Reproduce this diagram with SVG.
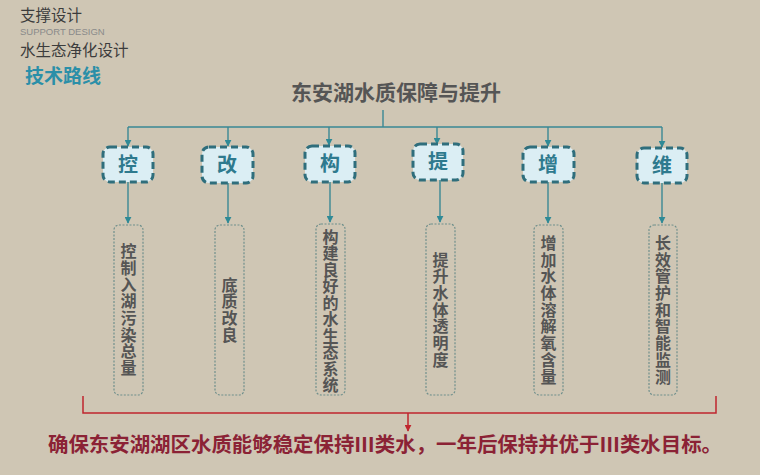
<svg xmlns="http://www.w3.org/2000/svg" width="760" height="475" viewBox="0 0 760 475">
<defs>
<marker id="ah" viewBox="0 0 10 10" refX="9" refY="5" markerWidth="7" markerHeight="7" markerUnits="userSpaceOnUse" orient="auto">
<path d="M0,0 L10,5 L0,10 z" fill="#2f8a96"/>
</marker>
<marker id="ahr" viewBox="0 0 10 10" refX="9" refY="5" markerWidth="7" markerHeight="7" markerUnits="userSpaceOnUse" orient="auto">
<path d="M0,0 L10,5 L0,10 z" fill="#c0262e"/>
</marker>
</defs>
<style>
.cjk{font-family:"Noto Sans CJK SC","Liberation Sans",sans-serif}
.hd{font-size:15.5px;fill:#3c3c3c}
.key{font-size:20px;font-weight:bold;fill:#2e7a8e;text-anchor:middle}
.kb{fill:#dbeef4;stroke:#2f6e7c;stroke-width:3;stroke-dasharray:7 4}
.tb{fill:#cfc6b4;stroke:#6f8f8c;stroke-width:1.2;stroke-dasharray:2 1.5}
.vt{font-size:16px;font-weight:bold;fill:#555555;text-anchor:middle;writing-mode:vertical-rl;letter-spacing:0.7px}
.ln{stroke:#3a8894;stroke-width:1.4;fill:none}
.rl{stroke:#c0262e;stroke-width:1.5;fill:none}
</style>
<rect width="760" height="475" fill="#cfc6b4"/>
<g id="header">
<text class="cjk hd" x="20" y="21">支撑设计</text>
<text x="20" y="35" font-family="Liberation Sans,sans-serif" font-size="9.5" fill="#8a8a8a">SUPPORT DESIGN</text>
<text class="cjk hd" x="20" y="56">水生态净化设计</text>
<text class="cjk" x="25" y="83" font-size="19" font-weight="bold" fill="#2b8fa8">技术路线</text>
</g>
<g id="title">
<text class="cjk" x="396" y="100" font-size="21" font-weight="bold" fill="#555555" text-anchor="middle">东安湖水质保障与提升</text>
</g>
<g id="connectors">
<path class="ln" d="M383,110 V127 M128,127 H662"/>
<path class="ln" marker-end="url(#ah)" d="M128,127 V146"/>
<path class="ln" marker-end="url(#ah)" d="M228,127 V146"/>
<path class="ln" marker-end="url(#ah)" d="M329,127 V145"/>
<path class="ln" marker-end="url(#ah)" d="M437,127 V144"/>
<path class="ln" marker-end="url(#ah)" d="M548,127 V146"/>
<path class="ln" marker-end="url(#ah)" d="M662,127 V147"/>
<path class="ln" marker-end="url(#ah)" d="M128,182 V223"/>
<path class="ln" marker-end="url(#ah)" d="M228,183 V223"/>
<path class="ln" marker-end="url(#ah)" d="M330,182 V222"/>
<path class="ln" marker-end="url(#ah)" d="M440,180 V222"/>
<path class="ln" marker-end="url(#ah)" d="M548,182 V223"/>
<path class="ln" marker-end="url(#ah)" d="M662,183 V223"/>
<path class="rl" d="M83,396 V413 H716 V396"/>
<path class="rl" marker-end="url(#ahr)" d="M408,413 V431"/>
</g>
<g id="n1">
<rect class="kb" x="103" y="147" width="50" height="35" rx="7"/>
<text class="cjk key" x="128" y="172">控</text>
</g>
<g id="n2">
<rect class="kb" x="202" y="147" width="51" height="36" rx="7"/>
<text class="cjk key" x="227" y="172">改</text>
</g>
<g id="n3">
<rect class="kb" x="305" y="146" width="50" height="36" rx="7"/>
<text class="cjk key" x="330" y="171">构</text>
</g>
<g id="n4">
<rect class="kb" x="413" y="144" width="50" height="36" rx="7"/>
<text class="cjk key" x="438" y="169">提</text>
</g>
<g id="n5">
<rect class="kb" x="523" y="147" width="51" height="35" rx="7"/>
<text class="cjk key" x="548" y="172">增</text>
</g>
<g id="n6">
<rect class="kb" x="637" y="148" width="50" height="35" rx="7"/>
<text class="cjk key" x="662" y="173">维</text>
</g>
<g id="d1">
<rect class="tb" x="114" y="225" width="29" height="170" rx="5"/>
<text class="cjk vt" x="128.5" y="310">控制入湖污染总量</text>
</g>
<g id="d2">
<rect class="tb" x="215" y="225" width="29" height="170" rx="5"/>
<text class="cjk vt" x="229.5" y="310">底质改良</text>
</g>
<g id="d3">
<rect class="tb" x="316" y="224" width="29" height="171" rx="5"/>
<text class="cjk vt" x="330.5" y="311" style="letter-spacing:0.5px">构建良好的水生态系统</text>
</g>
<g id="d4">
<rect class="tb" x="426" y="224" width="29" height="171" rx="5"/>
<text class="cjk vt" x="440.5" y="310">提升水体透明度</text>
</g>
<g id="d5">
<rect class="tb" x="534" y="225" width="29" height="170" rx="5"/>
<text class="cjk vt" x="548.5" y="310">增加水体溶解氧含量</text>
</g>
<g id="d6">
<rect class="tb" x="649" y="225" width="28" height="170" rx="5"/>
<text class="cjk vt" x="663" y="310">长效管护和智能监测</text>
</g>
<g id="goal">
<text class="cjk" x="48" y="452" font-size="20" font-weight="bold" fill="#8b2235" textLength="674" lengthAdjust="spacingAndGlyphs">确保东安湖湖区水质能够稳定保持Ⅲ类水，一年后保持并优于Ⅲ类水目标。</text>
</g>
</svg>
